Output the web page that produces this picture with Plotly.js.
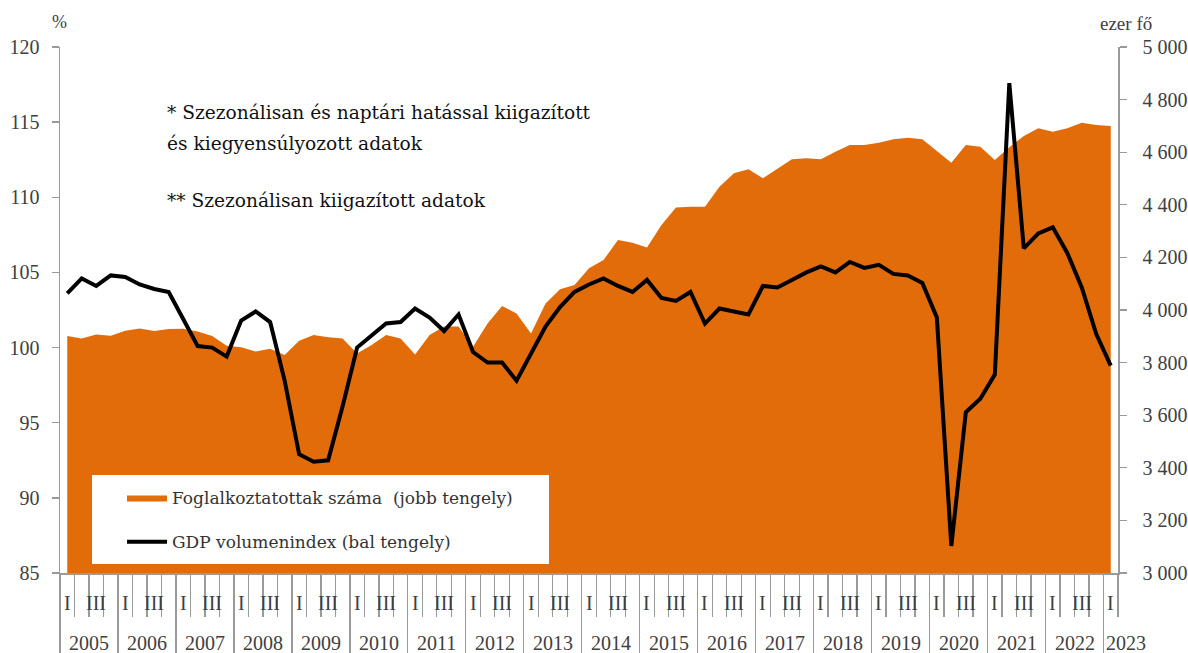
<!DOCTYPE html>
<html><head><meta charset="utf-8">
<script src="https://cdn.plot.ly/plotly-3.0.1.min.js"></script>
<style>html,body{margin:0;padding:0;background:#fff;}#chart{width:1188px;height:653px;}</style>
</head><body><div id="chart"></div>
<script>
// ---- data ----
const years = ['2005','2006','2007','2008','2009','2010','2011','2012','2013','2014','2015','2016','2017','2018','2019','2020','2021','2022','2023'];
const quarterLabels = ['I', '', 'III', ''];
// Foglalkoztatottak száma (ezer fő), quarterly 2005 Q1 – 2023 Q1
const employment = [3901,3892,3907,3902,3921,3930,3920,3928,
  3929,3918,3901,3864,3858,3842,3853,3829,
  3883,3905,3896,3892,3835,3867,3905,3892,
  3831,3905,3937,3937,3860,3949,4015,3987,
  3911,4025,4079,4095,4159,4190,4266,4256,
  4238,4323,4390,4393,4393,4469,4520,4535,
  4501,4537,4573,4577,4573,4602,4627,4627,
  4636,4649,4655,4649,4605,4560,4627,4621,
  4570,4619,4662,4691,4678,4691,4712,4703,4700];
// GDP volumenindex (%), quarterly 2005 Q1 – 2023 Q1
const gdp = [103.6,104.6,104.1,104.8,104.7,104.2,103.9,103.7,
  101.9,100.1,100.0,99.4,101.8,102.4,101.7,97.8,
  92.9,92.4,92.5,96.1,100.0,100.8,101.6,101.7,
  102.6,102.0,101.1,102.2,99.7,99.0,99.0,97.8,
  99.6,101.4,102.7,103.7,104.2,104.6,104.1,103.7,
  104.5,103.3,103.1,103.7,101.6,102.6,102.4,102.2,
  104.1,104.0,104.5,105.0,105.4,105.0,105.7,105.3,
  105.5,104.9,104.8,104.3,102.0,86.8,95.7,96.6,
  98.2,117.6,106.6,107.6,108.0,106.3,104.0,100.9,98.8];
const notes = ['* Szezonálisan és naptári hatással kiigazított', 'és kiegyensúlyozott adatok', '** Szezonálisan kiigazított adatok'];

// ---- build ----
const nQ = gdp.length;
const idx = gdp.map((_, i) => i);
const quarterBounds = [];
for (let i = 0; i <= nQ; i++) quarterBounds.push(i - 0.5);
const yearBounds = years.map((_, k) => 4 * k - 0.5);
const FONT = '"Liberation Serif", "DejaVu Serif", serif';
const WIDEFONT = '"DejaVu Serif", "Liberation Serif", serif';
const ORANGE = '#E36C0A';
const AXIS = '#9a9a9a';
const TICKTXT = '#404040';

// plot-area pixel geometry
const W = 1188, H = 653, L = 60, R = 70, T = 47, B = 80;
const pw = W - L - R, ph = H - T - B;
const px = v => (v - L) / pw;       // pixel x -> paper
const py = v => (H - B - v) / ph;   // pixel y -> paper

const traces = [
  {x: idx, y: employment, xaxis: 'x', yaxis: 'y', type: 'scatter', mode: 'lines',
   fill: 'tozeroy', fillcolor: ORANGE, line: {width: 0, color: ORANGE},
   name: 'Foglalkoztatottak száma  (jobb tengely)', legendgroup: 'a', hoverinfo: 'skip'},
  {x: idx, y: gdp, xaxis: 'x2', yaxis: 'y2', type: 'scatter', mode: 'lines',
   line: {color: '#000', width: 4}, name: 'GDP volumenindex (bal tengely)', legendgroup: 'b', hoverinfo: 'skip'}
];

const annotations = [];
idx.forEach(i => {
  const t = quarterLabels[i % 4];
  if (t) annotations.push({x: i, xref: 'x', y: py(603), yref: 'paper', text: t, showarrow: false,
    font: {family: FONT, size: 20, color: TICKTXT}, xanchor: 'center', yanchor: 'middle'});
});
years.forEach((yr, k) => {
  const s = 4 * k, e = Math.min(s + 3, nQ - 1);
  const partial = e - s < 3; // last year has a single quarter: start its label at the year boundary
  annotations.push({x: partial ? s - 0.45 : (s + e) / 2, xref: 'x', y: py(643), yref: 'paper', text: yr, showarrow: false,
    font: {family: FONT, size: 20, color: TICKTXT}, xanchor: partial ? 'left' : 'center', yanchor: 'middle'});
});
annotations.push({x: px(59), xref: 'paper', y: py(22), yref: 'paper', text: '%', showarrow: false,
  font: {family: FONT, size: 18, color: TICKTXT}, xanchor: 'center', yanchor: 'middle'});
annotations.push({x: px(1126), xref: 'paper', y: py(24), yref: 'paper', text: 'ezer fő', showarrow: false,
  font: {family: FONT, size: 19, color: TICKTXT}, xanchor: 'center', yanchor: 'middle'});
const noteY = [112, 143, 201];
notes.forEach((t, j) => annotations.push({x: px(165), xref: 'paper', y: py(noteY[j]), yref: 'paper', text: t,
  showarrow: false, font: {family: WIDEFONT, size: 18.6, color: '#111'}, xanchor: 'left', yanchor: 'middle'}));

const layout = {
  width: W, height: H,
  margin: {l: L, r: R, t: T, b: B, pad: 0},
  paper_bgcolor: '#fff', plot_bgcolor: '#fff',
  separators: ', ',
  showlegend: true,
  xaxis: {range: [-0.5, nQ - 0.5], tickmode: 'array', tickvals: quarterBounds, ticks: 'outside', ticklen: 42,
    tickcolor: AXIS, tickwidth: 1.3, showticklabels: false, showline: true, linecolor: AXIS, linewidth: 1.5,
    showgrid: false, zeroline: false, fixedrange: true},
  xaxis2: {overlaying: 'x', anchor: 'y', side: 'bottom', range: [-0.5, nQ - 0.5], tickmode: 'array', tickvals: yearBounds,
    ticks: 'outside', ticklen: 82, tickcolor: AXIS, tickwidth: 1.3, showticklabels: false, showline: false,
    showgrid: false, zeroline: false, fixedrange: true},
  yaxis: {side: 'right', anchor: 'x', range: [3000, 5000], tick0: 3000, dtick: 200, ticks: 'outside', ticklen: 7,
    tickcolor: AXIS, tickwidth: 1.3, showline: true, linecolor: AXIS, linewidth: 1.5, showgrid: false, zeroline: false,
    separatethousands: true, ticklabelstandoff: 12, tickfont: {family: FONT, size: 20, color: TICKTXT}, fixedrange: true},
  yaxis2: {overlaying: 'y', side: 'left', anchor: 'x', range: [85, 120], tick0: 85, dtick: 5, ticks: 'outside', ticklen: 7,
    tickcolor: AXIS, tickwidth: 1.3, showline: true, linecolor: AXIS, linewidth: 1.5, showgrid: false, zeroline: false,
    ticklabelstandoff: 8, tickfont: {family: FONT, size: 20, color: TICKTXT}, fixedrange: true},
  legend: {x: px(122), xanchor: 'left', y: py(480), yanchor: 'top', bgcolor: 'rgba(0,0,0,0)',
    font: {family: WIDEFONT, size: 17, color: '#333'}, itemwidth: 40, traceorder: 'grouped', tracegroupgap: 19},
  shapes: [{type: 'rect', xref: 'paper', yref: 'paper', x0: px(92), x1: px(549), y0: py(564), y1: py(475),
    fillcolor: '#fff', line: {width: 0}, layer: 'above'}],
  annotations: annotations
};

Plotly.newPlot('chart', traces, layout, {displayModeBar: false, staticPlot: true});
</script>
</body></html>
